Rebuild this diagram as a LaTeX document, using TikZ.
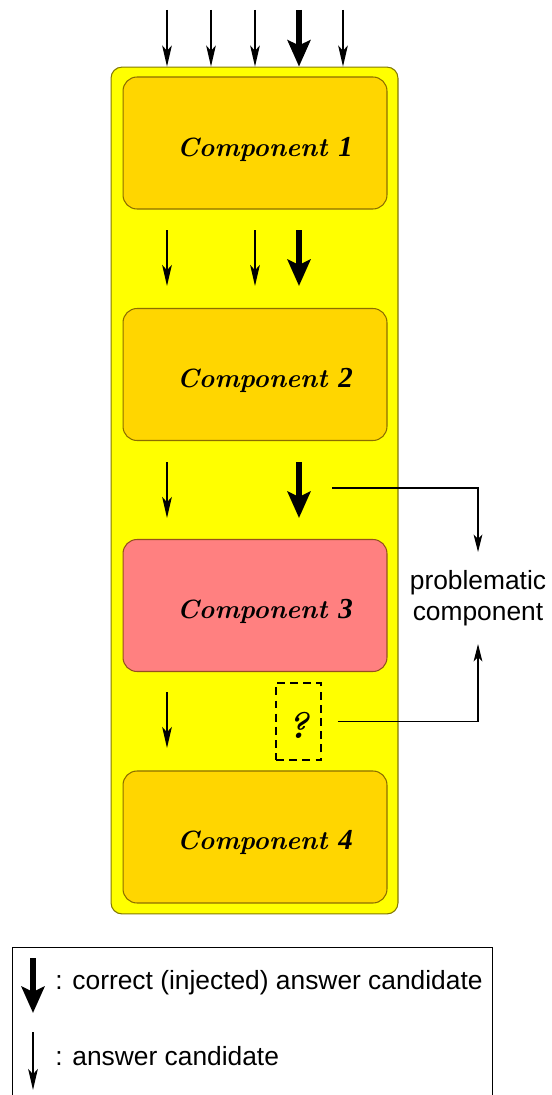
\documentclass[tikz,border=0pt]{standalone}
\usepackage{fontspec}
\newfontfamily\arial{Liberation Sans}
\newfontfamily\digfont{Liberation Serif}
\usetikzlibrary{arrows.meta}
\definecolor{outerfill}{RGB}{255,255,0}
\definecolor{outerdraw}{RGB}{130,120,0}
\definecolor{compfill}{RGB}{255,214,0}
\definecolor{compdraw}{RGB}{140,110,0}
\definecolor{badfill}{RGB}{255,128,128}
\definecolor{baddraw}{RGB}{150,80,30}
\newcommand{\complabel}[2]{\raisebox{-0.12cm}[\height][\depth]{\hspace*{0.4cm}#1 {\digfont\bfseries\itshape\fontsize{16.5}{18}\selectfont #2}}}
\begin{document}
\begin{tikzpicture}[x=0.02cm,y=-0.02cm,
  outerbox/.style={draw=outerdraw, fill=outerfill, line width=0.6pt, rounded corners=0.22cm,
    minimum width=5.74cm, minimum height=16.94cm, inner sep=0pt},
  compbox/.style={draw=compdraw, fill=compfill, line width=0.6pt, rounded corners=0.28cm,
    minimum width=5.28cm, minimum height=2.64cm, inner sep=0pt,
    font=\bfseries\itshape\fontsize{15}{18}\selectfont},
  thin/.style={line width=0.9pt, -{Stealth[length=12pt,width=5.5pt,inset=3pt]}},
  thick/.style={line width=3.4pt, -{Stealth[length=15pt,width=13pt,inset=3pt]}},
  conn/.style={line width=0.6pt, -{Stealth[length=10pt,width=5pt,inset=2.5pt]}},
  sans/.style={font=\arial\fontsize{15}{18}\selectfont}
]
\useasboundingbox[fill=white] (0,0) rectangle (551,1095);

\node[outerbox] (outer) at (254.5,490.5) {};
\node[compbox] (c1) at (255,143) {\complabel{Component}{1}};
\node[compbox] (c2) at (255,374.5) {\complabel{Component}{2}};
\node[compbox, fill=badfill, draw=baddraw] (c3) at (255,605.5) {\complabel{Component}{3}};
\node[compbox] (c4) at (255,837) {\complabel{Component}{4}};

% top arrows
\foreach \x/\n in {167/a,211/b,255/c,343/e} {
  \coordinate (t\n) at (\x,10);
  \draw[thin] (t\n) -- (t\n |- outer.north);
}
\coordinate (td) at (299,10);
\draw[thick] (td) -- (td |- outer.north);

% between c1 and c2
\coordinate (m1a) at (167,230); \coordinate (m1ae) at (167,286);
\coordinate (m1b) at (255,230); \coordinate (m1be) at (255,286);
\coordinate (m1c) at (299,230); \coordinate (m1ce) at (299,286);
\draw[thin] (m1a) -- (m1ae);
\draw[thin] (m1b) -- (m1be);
\draw[thick] (m1c) -- (m1ce);

% between c2 and c3
\coordinate (m2a) at (167,462); \coordinate (m2ae) at (167,518);
\coordinate (m2c) at (299,462); \coordinate (m2ce) at (299,518);
\draw[thin] (m2a) -- (m2ae);
\draw[thick] (m2c) -- (m2ce);

% between c3 and c4
\coordinate (m3a) at (167,692); \coordinate (m3ae) at (167,748);
\draw[thin] (m3a) -- (m3ae);
\node[draw, dashed, dash pattern=on 4.5pt off 3pt, line width=0.6pt, minimum width=0.9cm, minimum height=1.54cm, inner sep=0pt,
  font=\bfseries\itshape\fontsize{21}{24}\selectfont] (q) at (298.5,721.5) {\raisebox{-0.08cm}[\height][\depth]{?}};

% problematic component
\node[sans, align=center, inner xsep=0pt, inner ysep=10pt] (prob) at (478,598) {problematic\\component};
\coordinate (s1) at (332,488);
\draw[conn] (s1) -| (prob.north);
\draw[conn] ([xshift=0.32cm]q.east) -| (prob.south);

% legend
\node[draw, line width=0.6pt, minimum width=9.6cm, minimum height=3.3cm, inner sep=0pt, anchor=north west] (legend) at (12,947) {};
\coordinate (l1) at (33,958); \coordinate (l1e) at (33,1013);
\draw[thick] (l1) -- (l1e);
\node[sans, anchor=west, inner sep=0pt] (lt1) at (55,983) {: correct (injected) answer candidate};
\coordinate (l2) at (33,1032); \coordinate (l2e) at (33,1090);
\draw[thin] (l2) -- (l2e);
\node[sans, anchor=west, inner sep=0pt] (lt2) at (55,1056) {: answer candidate};
\end{tikzpicture}
\end{document}
